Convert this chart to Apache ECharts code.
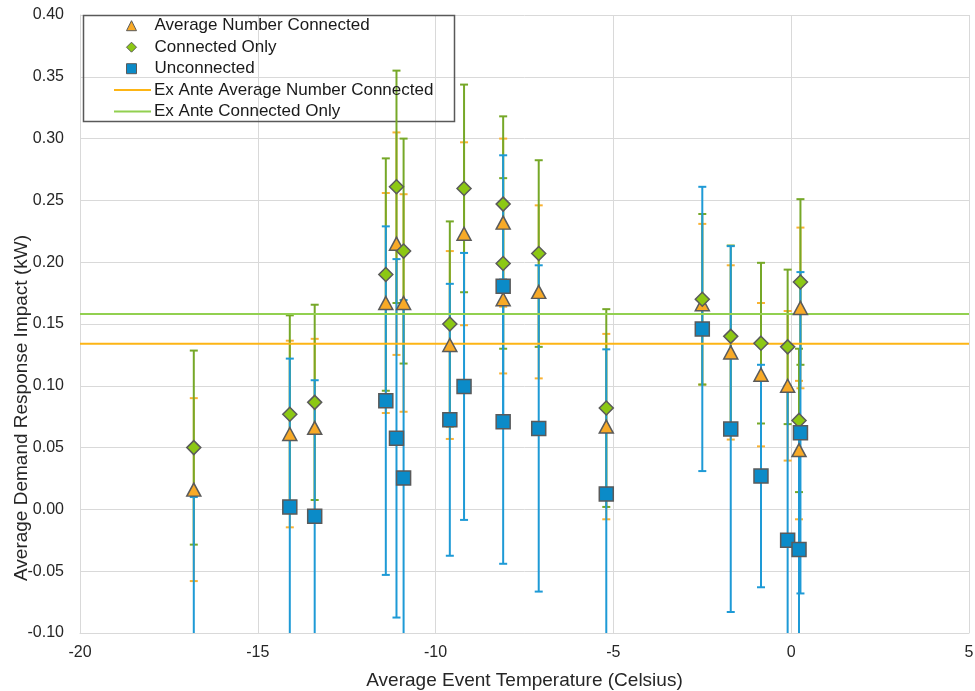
<!DOCTYPE html>
<html>
<head>
<meta charset="utf-8">
<script src="https://cdn.jsdelivr.net/npm/echarts@6/dist/echarts.min.js"></script>
<style>html,body{margin:0;padding:0;background:#fff;}#c{width:975px;height:691px;}</style>
</head>
<body>
<div id="c"></div>
<script>
// Event temperatures (Celsius)
const temps = [-16.8, -14.1, -13.4, -11.4, -11.1, -10.9, -9.6, -9.2, -8.1, -8.1, -7.1, -5.2, -2.5, -1.7, -0.85, -0.1, 0.26, 0.22];
// Average Number Connected
const ancVal = [0.016, 0.061, 0.066, 0.167, 0.215, 0.167, 0.133, 0.223, 0.232, 0.170, 0.176, 0.067, 0.166, 0.127, 0.109, 0.100, 0.163, 0.048];
const ancErr = [0.074, 0.0755, 0.072, 0.089, 0.090, 0.088, 0.076, 0.074, 0.068, 0.060, 0.070, 0.075, 0.065, 0.0705, 0.058, 0.0605, 0.065, 0.056];
// Connected Only
const coVal = [0.050, 0.077, 0.0866, 0.190, 0.261, 0.209, 0.150, 0.2597, 0.247, 0.199, 0.207, 0.082, 0.170, 0.140, 0.1345, 0.1315, 0.184, 0.072];
const coErr = [0.0785, 0.080, 0.079, 0.094, 0.094, 0.091, 0.083, 0.084, 0.071, 0.069, 0.0755, 0.080, 0.069, 0.0735, 0.065, 0.0625, 0.067, 0.058];
// Unconnected
const unVal = [-0.17, 0.002, -0.0055, 0.088, 0.0575, 0.0254, 0.0725, 0.0995, 0.071, 0.1805, 0.0655, 0.0125, 0.146, 0.065, 0.027, -0.025, 0.062, -0.0325];
const unErr = [0.18, 0.120, 0.110, 0.141, 0.145, 0.144, 0.110, 0.108, 0.115, 0.106, 0.132, 0.117, 0.115, 0.148, 0.090, 0.125, 0.130, 0.10];
// Ex ante reference values
const exAnteANC = 0.134;
const exAnteCO = 0.158;
// Axis ranges / ticks
const xTicks = [-20, -15, -10, -5, 0, 5];
const yTicks = [-0.10, -0.05, 0.00, 0.05, 0.10, 0.15, 0.20, 0.25, 0.30, 0.35, 0.40];

const C_ORANGE = '#F8AA27', C_GREEN = '#8CC814', C_BLUE = '#0B8BC8';
const E_ORANGE = '#F9B233', E_GREEN = '#76A828', E_BLUE = '#1E9AD6';
const L_ORANGE = '#FDB515', L_GREEN = '#92D050';
const BORDER = '#5A5A5A';
const FONT = 'Liberation Sans, Arial, sans-serif';

function pts(vals) { return temps.map((t, i) => [t, vals[i]]); }
function errs(vals, e) { return temps.map((t, i) => [t, vals[i] - e[i], vals[i] + e[i]]); }

function errRender(color) {
  return function (params, api) {
    const x = api.value(0), lo = api.value(1), hi = api.value(2);
    const a = api.coord([x, hi]), b = api.coord([x, lo]);
    const hw = 4, st = { stroke: color, lineWidth: 2 };
    return {
      type: 'group', children: [
        { type: 'line', shape: { x1: a[0], y1: a[1], x2: b[0], y2: b[1] }, style: st },
        { type: 'line', shape: { x1: a[0] - hw, y1: a[1], x2: a[0] + hw, y2: a[1] }, style: st },
        { type: 'line', shape: { x1: b[0] - hw, y1: b[1], x2: b[0] + hw, y2: b[1] }, style: st }
      ]
    };
  };
}

const chart = echarts.init(document.getElementById('c'), null, { renderer: 'canvas' });
const legendText = { fontFamily: FONT, fontSize: 17, color: '#1a1a1a', lineHeight: 20 };
chart.setOption({
  animation: false,
  backgroundColor: '#fff',
  textStyle: { fontFamily: FONT },
  grid: { left: 80, right: 6, top: 15, bottom: 58, containLabel: false, outerBoundsMode: 'none' },
  graphic: [{
    type: 'rect', z: 1, shape: { x: 83.5, y: 15.5, width: 371, height: 106 },
    style: { fill: 'none', stroke: '#595959', lineWidth: 1.5 }
  }],
  legend: [{
    orient: 'vertical', left: 126, top: 15.7, padding: 0, itemGap: 1.5,
    itemWidth: 10, itemHeight: 10,
    textStyle: Object.assign({ padding: [0, 0, 0, 13] }, legendText),
    data: [
      { name: 'Average Number Connected', icon: 'triangle', itemStyle: { color: C_ORANGE, borderColor: BORDER, borderWidth: 1 } },
      { name: 'Connected Only', icon: 'diamond', itemStyle: { color: C_GREEN, borderColor: BORDER, borderWidth: 1 } },
      { name: 'Unconnected', icon: 'rect', itemStyle: { color: C_BLUE, borderColor: BORDER, borderWidth: 1 } }
    ]
  }, {
    orient: 'vertical', left: 114, top: 80, padding: 0, itemGap: 1.5,
    itemWidth: 37, itemHeight: 2,
    textStyle: Object.assign({ padding: [0, 0, 0, -2] }, legendText),
    data: [
      { name: 'Ex Ante Average Number Connected', icon: 'rect', itemStyle: { color: L_ORANGE, borderWidth: 0 } },
      { name: 'Ex Ante Connected Only', icon: 'rect', itemStyle: { color: L_GREEN, borderWidth: 0 } }
    ]
  }],
  xAxis: {
    type: 'value', min: xTicks[0], max: xTicks[xTicks.length - 1], interval: 5,
    name: 'Average Event Temperature (Celsius)', nameLocation: 'middle', nameGap: 38,
    nameTextStyle: { fontFamily: FONT, fontSize: 19, color: '#262626' },
    axisLine: { onZero: false, lineStyle: { color: '#D9D9D9' } },
    axisTick: { show: false },
    axisLabel: { margin: 12, fontFamily: FONT, fontSize: 16, color: '#262626' },
    splitLine: { lineStyle: { color: '#D9D9D9', width: 1 } }
  },
  yAxis: {
    type: 'value', min: yTicks[0], max: yTicks[yTicks.length - 1], interval: 0.05,
    name: 'Average Demand Response Impact (kW)', nameLocation: 'middle', nameGap: 49, nameMoveOverlap: false,
    nameTextStyle: { fontFamily: FONT, fontSize: 19, color: '#262626', padding: [0, 168, 0, 0] },
    axisLine: { show: true, onZero: false, lineStyle: { color: '#D9D9D9' } },
    axisTick: { show: false },
    axisLabel: { margin: 16, fontFamily: FONT, fontSize: 16, color: '#262626', formatter: v => v.toFixed(2) },
    splitLine: { lineStyle: { color: '#D9D9D9', width: 1 } }
  },
  series: [
    { name: 'ANC err', type: 'custom', clip: true, z: 2, renderItem: errRender(E_ORANGE), data: errs(ancVal, ancErr), encode: { x: 0, y: [1, 2] } },
    { name: 'CO err', type: 'custom', clip: true, z: 2, renderItem: errRender(E_GREEN), data: errs(coVal, coErr), encode: { x: 0, y: [1, 2] } },
    { name: 'UN err', type: 'custom', clip: true, z: 2, renderItem: errRender(E_BLUE), data: errs(unVal, unErr), encode: { x: 0, y: [1, 2] } },
    { name: 'Ex Ante Average Number Connected', type: 'line', z: 3, symbol: 'none', data: [[xTicks[0], exAnteANC], [xTicks[xTicks.length - 1], exAnteANC]], lineStyle: { color: L_ORANGE, width: 2 }, itemStyle: { color: L_ORANGE } },
    { name: 'Ex Ante Connected Only', type: 'line', z: 3, symbol: 'none', data: [[xTicks[0], exAnteCO], [xTicks[xTicks.length - 1], exAnteCO]], lineStyle: { color: L_GREEN, width: 2 }, itemStyle: { color: L_GREEN } },
    { name: 'Average Number Connected', type: 'scatter', z: 5, symbol: 'triangle', symbolSize: [14, 13], data: pts(ancVal), itemStyle: { color: C_ORANGE, borderColor: BORDER, borderWidth: 1.5, opacity: 1 } },
    { name: 'Connected Only', type: 'scatter', z: 6, symbol: 'diamond', symbolSize: 14, data: pts(coVal), itemStyle: { color: C_GREEN, borderColor: BORDER, borderWidth: 1.5, opacity: 1 } },
    { name: 'Unconnected', type: 'scatter', z: 7, symbol: 'rect', symbolSize: 14, data: pts(unVal), itemStyle: { color: C_BLUE, borderColor: BORDER, borderWidth: 1.5, opacity: 1 } }
  ]
});
</script>
</body>
</html>
